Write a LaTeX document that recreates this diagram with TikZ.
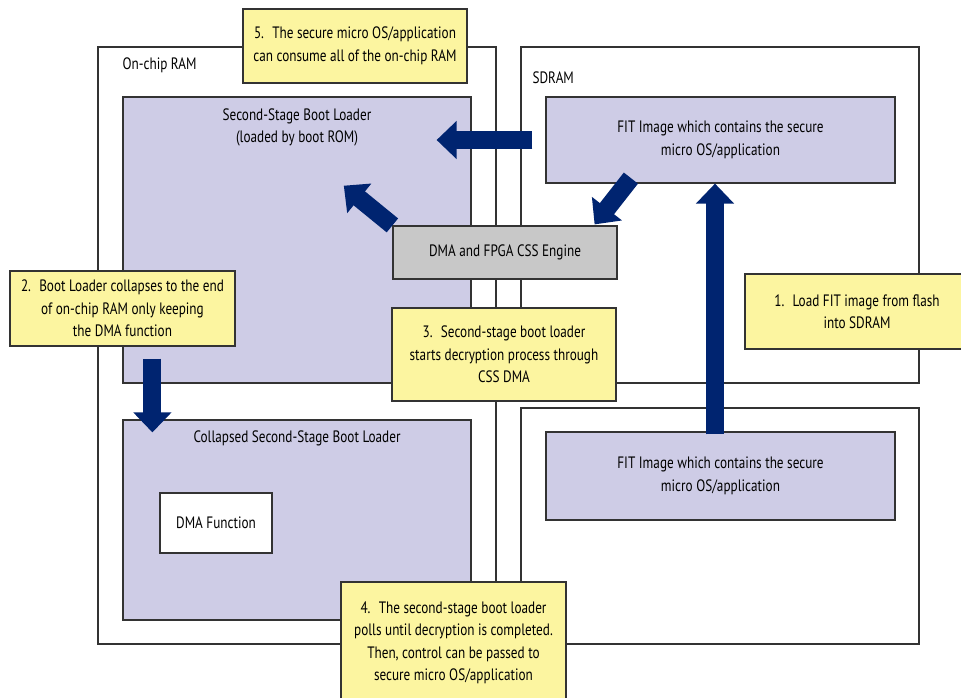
\documentclass[tikz,border=0pt]{standalone}
\usepackage{fontspec}
\setmainfont{PT Sans}[FakeStretch=0.8]
\usetikzlibrary{arrows.meta,positioning,calc}
\definecolor{memlilac}{RGB}{206,204,230}
\definecolor{notefill}{RGB}{252,245,160}
\definecolor{enginegray}{RGB}{200,200,200}
\definecolor{arrownavy}{RGB}{0,36,112}
\definecolor{edgegray}{RGB}{51,51,51}

\begin{document}
\begin{tikzpicture}[
    x=1pt, y=-1pt,
    font=\fontsize{16.5}{22.5}\selectfont,
    region/.style={draw=edgegray, line width=1.2pt, fill=white, rectangle, inner sep=0pt},
    memblock/.style={draw=edgegray, line width=1.2pt, fill=memlilac, rectangle, align=center, inner sep=0pt},
    enginebox/.style={draw=edgegray, line width=1.2pt, fill=enginegray, rectangle, inner sep=0pt},
    note/.style={draw=edgegray, line width=1.2pt, fill=notefill, rectangle, align=center, inner sep=0pt},
    lbl/.style={align=center, inner sep=0pt},
    bigarrow/.style={draw=arrownavy, line width=18pt, -{Triangle[width=37pt,length=20pt]}}
]
\useasboundingbox (0,0) rectangle (961,698);

% memory regions
\node[region, minimum width=398pt, minimum height=597pt] (onchip) at (297,345.5) {};
\node[region, minimum width=398pt, minimum height=336pt] (sdram) at (720,215) {};
\node[region, minimum width=398pt, minimum height=236pt] (lowbank) at (720,526) {};
\node[lbl, anchor=west] (onchiplbl) at ($(onchip.north west)+(25,19)$) {On-chip RAM};
\node[lbl, anchor=west] (sdramlbl) at ($(sdram.north west)+(12,31)$) {SDRAM};

% blocks
\node[memblock, minimum width=348pt, minimum height=286pt] (ssbl) at (297,240) {};
\node[lbl] (ssbllbl) at ($(ssbl.north)+(0,31)$) {Second-Stage Boot Loader\\(loaded by boot ROM)};
\node[memblock, minimum width=348pt, minimum height=200pt] (collapsed) at (297,520) {};
\node[lbl] (collapsedlbl) at ($(collapsed.north)+(0,19)$) {Collapsed Second-Stage Boot Loader};
\node[region, minimum width=112pt, minimum height=60pt] (dmafunc) at (216,523) {DMA Function};
\node[memblock, minimum width=349pt, minimum height=86pt] (fitup) at (720.5,140) {FIT Image which contains the secure\\micro OS/application};
\node[memblock, minimum width=349pt, minimum height=88pt] (fitlow) at (720.5,476) {FIT Image which contains the secure\\micro OS/application};
\node[enginebox, minimum width=224pt, minimum height=53pt] (engine) at (505,252.5) {DMA and FPGA CSS Engine};

% data flow
\draw[bigarrow] ($(fitup.west)+(-13,0)$) -- ($(fitup.west -| ssbl.east)+(-35,0)$);
\draw[bigarrow] (engine.north west) -- ($(engine.north west)+(-48.6,-39.7)$);
\draw[bigarrow] ($(fitup.south west)+(85.5,-5.5)$) -- ($(engine.north east)+(-23,-1)$);
\draw[bigarrow] ($(fitlow.north)+(-5.5,3)$) -- ($(fitup.south)+(-5.5,0)$);
\draw[bigarrow] ($(ssbl.south west)+(30,-25)$) -- ($(collapsed.north west)+(30,13)$);

% callouts
\node[note, minimum width=224pt, minimum height=74pt] (note5) at (355,46) {5.\enspace The secure micro OS/application\\can consume all of the on-chip RAM};
\node[note, minimum width=225pt, minimum height=75pt] (note2) at (122.5,308.5) {2.\enspace Boot Loader collapses to the end\\of on-chip RAM only keeping\\the DMA function};
\node[note, minimum width=224pt, minimum height=93pt] (note3) at (504,354.5) {3.\enspace Second-stage boot loader\\starts decryption process through\\CSS DMA};
\node[note, minimum width=224pt, minimum height=75pt] (note1) at (857,311.5) {1.\enspace Load FIT image from flash\\into SDRAM};
\node[note, minimum width=225pt, minimum height=122pt] (note4) at (453.5,643) {4.\enspace The second-stage boot loader\\polls until decryption is completed.\\Then, control can be passed to\\secure micro OS/application};

\end{tikzpicture}
\end{document}
